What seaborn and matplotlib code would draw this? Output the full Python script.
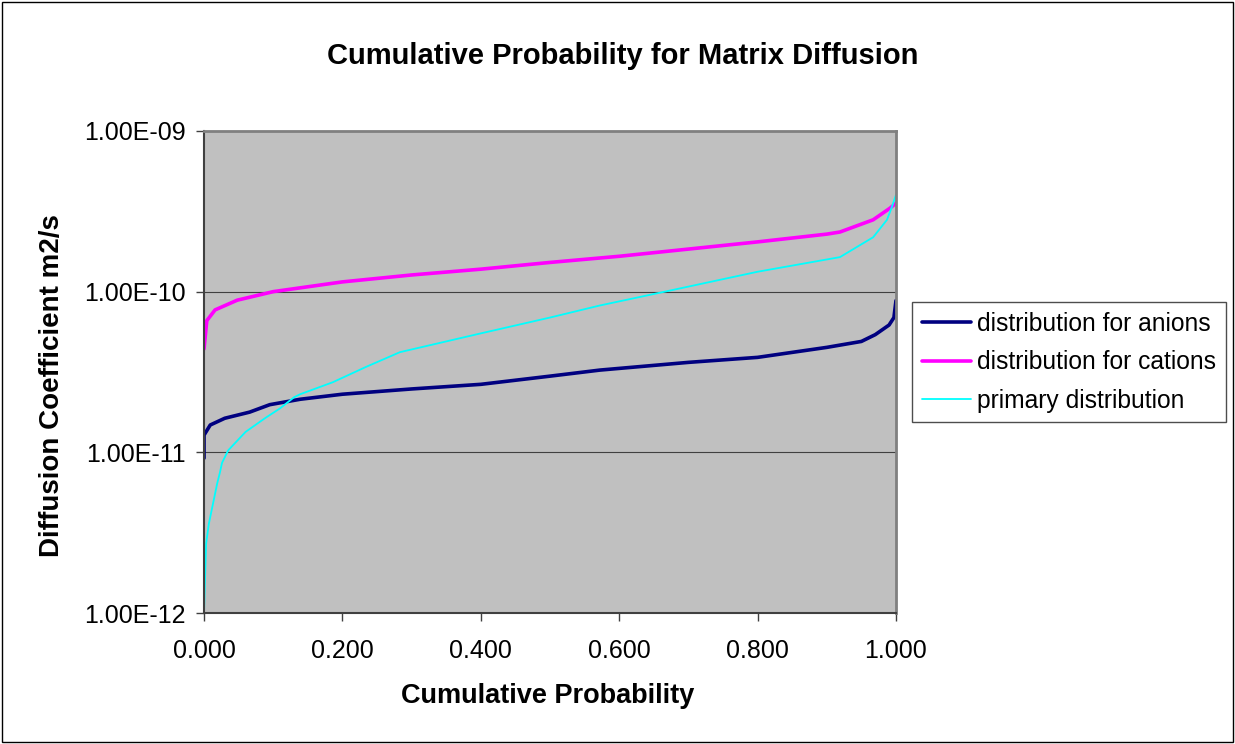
import numpy as np
import pandas as pd
import matplotlib.pyplot as plt
import seaborn as sns
from matplotlib.patches import Rectangle
from matplotlib.ticker import FixedLocator, NullLocator

# -------------------------------
# DATA
# -------------------------------
anion_p = [0.0, 0.0, 0.009, 0.03, 0.066, 0.095, 0.139, 0.2, 0.3, 0.4, 0.5, 0.572, 0.7, 0.8,
           0.9, 0.95, 0.97, 0.99, 0.997, 1.0]
anion_d = [9.2e-12, 1.28e-11, 1.48e-11, 1.63e-11, 1.78e-11, 1.98e-11, 2.14e-11, 2.3e-11, 2.48e-11,
           2.65e-11, 2.98e-11, 3.25e-11, 3.63e-11, 3.9e-11, 4.5e-11, 4.9e-11, 5.4e-11, 6.2e-11,
           6.9e-11, 8.8e-11]

cation_p = [0.0, 0.004, 0.016, 0.048, 0.1, 0.2, 0.3, 0.4, 0.5, 0.6, 0.7, 0.8, 0.9, 0.919,
            0.967, 0.991, 1.0]
cation_d = [4.4e-11, 6.6e-11, 7.7e-11, 8.85e-11, 1.0e-10, 1.15e-10, 1.27e-10, 1.38e-10, 1.52e-10,
            1.66e-10, 1.84e-10, 2.04e-10, 2.28e-10, 2.35e-10, 2.8e-10, 3.3e-10, 3.55e-10]

primary_p = [0.0, 0.003, 0.007, 0.013, 0.019, 0.023, 0.026, 0.035, 0.06, 0.088, 0.11, 0.13,
             0.139, 0.186, 0.234, 0.283, 0.4, 0.5, 0.572, 0.666, 0.8, 0.919, 0.967, 0.987,
             0.994, 1.0]
primary_d = [1.0e-12, 2.7e-12, 3.6e-12, 4.8e-12, 6.4e-12, 7.5e-12, 8.6e-12, 1.03e-11, 1.34e-11,
             1.63e-11, 1.88e-11, 2.2e-11, 2.3e-11, 2.73e-11, 3.4e-11, 4.2e-11, 5.5e-11, 6.9e-11,
             8.2e-11, 1.0e-10, 1.33e-10, 1.64e-10, 2.18e-10, 2.8e-10, 3.36e-10, 4.0e-10]

y_ticks = [1e-12, 1e-11, 1e-10, 1e-9]
y_labels = ["1.00E-12", "1.00E-11", "1.00E-10", "1.00E-09"]
x_ticks = [0.0, 0.2, 0.4, 0.6, 0.8, 1.0]
x_labels = ["0.000", "0.200", "0.400", "0.600", "0.800", "1.000"]

sns.set_style("white")
plt.rcParams['font.family'] = ['Liberation Sans', 'DejaVu Sans']
plt.rcParams['text.color'] = 'black'
plt.rcParams['axes.labelcolor'] = 'black'

fig = plt.figure(figsize=(12.35, 7.44), dpi=100)
ax = fig.add_axes([0.1652, 0.176, 0.5603, 0.648])
ax.set_facecolor('#C0C0C0')

# figure border
fig.patches.append(Rectangle((0.002, 0.003), 0.996, 0.994, transform=fig.transFigure,
                             fill=False, edgecolor='black', linewidth=1.0))

sns.lineplot(x=anion_p, y=anion_d, ax=ax, color='#000080', linewidth=2.6,
             sort=False, estimator=None, label='distribution for anions')
sns.lineplot(x=cation_p, y=cation_d, ax=ax, color='#FF00FF', linewidth=2.6,
             sort=False, estimator=None, label='distribution for cations')
sns.lineplot(x=primary_p, y=primary_d, ax=ax, color='#00FFFF', linewidth=1.3,
             sort=False, estimator=None, label='primary distribution')

ax.set_yscale('log')
ax.set_ylim(1e-12, 1e-9)
ax.set_xlim(0, 1)
ax.yaxis.set_major_locator(FixedLocator(y_ticks))
ax.yaxis.set_minor_locator(NullLocator())
ax.set_yticklabels(y_labels)
ax.set_xticks(x_ticks)
ax.set_xticklabels(x_labels)
ax.tick_params(axis='both', labelsize=18, direction='out', length=6, width=1,
               color='#404040', labelcolor='black', left=True, bottom=True)
ax.tick_params(axis='x', pad=13)
ax.tick_params(axis='y', pad=7)

ax.grid(axis='y', color='#404040', linewidth=0.8)
ax.set_axisbelow(True)
for side in ['left', 'bottom']:
    ax.spines[side].set_color('#404040')
    ax.spines[side].set_linewidth(1.5)
for side in ['top', 'right']:
    ax.spines[side].set_color('#808080')
    ax.spines[side].set_linewidth(2)

ax.set_xlabel('Cumulative Probability', fontsize=19.5, fontweight='bold')
ax.set_ylabel('Diffusion Coefficient m2/s', fontsize=20, fontweight='bold')
ax.xaxis.set_label_coords(0.497, -0.172)
ax.xaxis.label.set_va('center')
ax.yaxis.set_label_coords(-0.22, 0.471)
ax.yaxis.label.set_va('center')

fig.text(0.504, 0.925, 'Cumulative Probability for Matrix Diffusion', fontsize=21,
         fontweight='bold', ha='center', va='center', color='black')

leg = ax.legend(loc='center left', bbox_to_anchor=(1.023, 0.52), fontsize=17.7,
                frameon=True, fancybox=False, edgecolor='#202020', handlelength=2.0,
                borderpad=0.4, labelspacing=0.58, handletextpad=0.25, borderaxespad=0)
leg.get_frame().set_linewidth(1.0)
for t in leg.get_texts():
    t.set_color('black')

plt.savefig('out.png', dpi=100)
